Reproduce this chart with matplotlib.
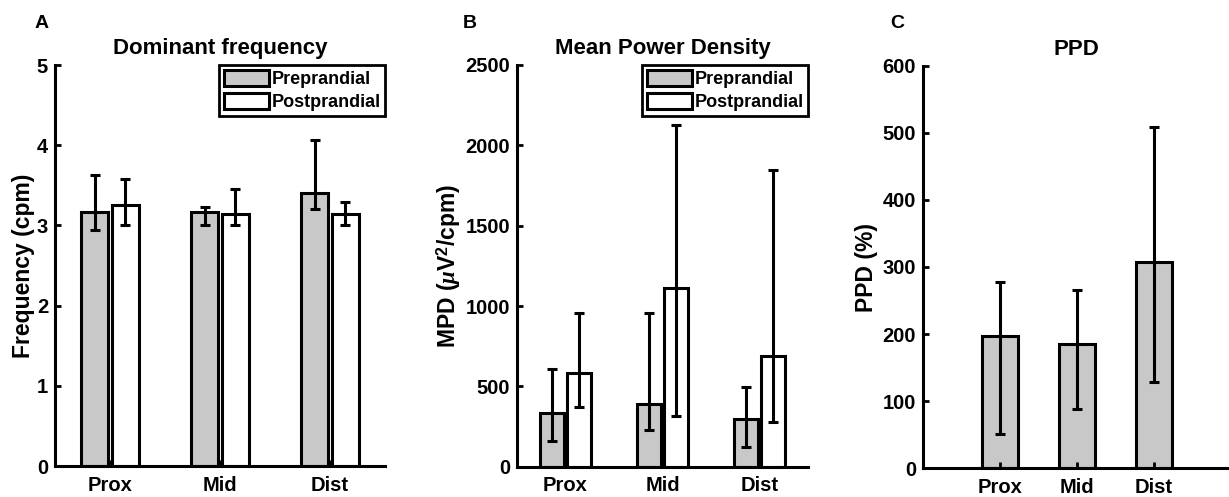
import matplotlib
matplotlib.use("Agg")
import matplotlib.pyplot as plt
import numpy as np

plt.rcParams['font.family'] = ['Liberation Sans', 'DejaVu Sans']
plt.rcParams['font.weight'] = 'bold'
plt.rcParams['mathtext.fontset'] = 'custom'
plt.rcParams['mathtext.rm'] = 'Liberation Sans:bold'
plt.rcParams['mathtext.it'] = 'Liberation Serif:italic'
plt.rcParams['mathtext.bf'] = 'Liberation Sans:bold'

categories = ['Prox', 'Mid', 'Dist']
series = ['Preprandial', 'Postprandial']

# Panel A: dominant frequency (cpm)
df_pre = [3.17, 3.17, 3.41]
df_pre_lo = [2.94, 3.00, 3.20]
df_pre_hi = [3.63, 3.23, 4.07]
df_post = [3.25, 3.14, 3.14]
df_post_lo = [3.00, 3.00, 3.00]
df_post_hi = [3.58, 3.46, 3.29]

# Panel B: mean power density
mpd_pre = [332, 388, 297]
mpd_pre_lo = [160, 228, 125]
mpd_pre_hi = [608, 955, 494]
mpd_post = [585, 1111, 689]
mpd_post_lo = [370, 316, 280]
mpd_post_hi = [959, 2127, 1847]

# Panel C: PPD (%)
ppd = [197, 185, 308]
ppd_lo = [51, 88, 129]
ppd_hi = [278, 265, 508]

GRAY = '#c8c8c8'
LW = 2.2

fig = plt.figure(figsize=(12.29, 4.97), dpi=100)
W, H = 1229, 497

def make_ax(l, r, b, t):
    return fig.add_axes([l / W, (H - b) / H, (r - l) / W, (b - t) / H])

def style(ax):
    for s in ['top', 'right']:
        ax.spines[s].set_visible(False)
    for s in ['left', 'bottom']:
        ax.spines[s].set_linewidth(LW)
    ax.tick_params(direction='in', length=4, width=2, labelsize=14.5)
    ax.tick_params(axis='x', pad=7)
    ax.tick_params(axis='y', pad=5)
    for lab in ax.get_xticklabels() + ax.get_yticklabels():
        lab.set_fontweight('bold')

def err(ax, x, v, lo, hi):
    v = np.array(v); lo = np.array(lo); hi = np.array(hi)
    ax.errorbar(x, v, yerr=[v - lo, hi - v], fmt='none', ecolor='black',
                elinewidth=LW, capsize=3.6, capthick=LW, zorder=5)

x = np.arange(1, len(categories) + 1)
off = 0.14
bw = 0.25

# ---- Panel A ----
axA = make_ax(55, 385, 466, 65)
axA.bar(x - off, df_pre, bw, color=GRAY, edgecolor='black', linewidth=LW, label=series[0])
axA.bar(x + off, df_post, bw, color='white', edgecolor='black', linewidth=LW, label=series[1])
err(axA, x - off, df_pre, df_pre_lo, df_pre_hi)
err(axA, x + off, df_post, df_post_lo, df_post_hi)
axA.set_xlim(0.5, 3.5)
axA.set_ylim(0, 5)
axA.set_yticks([0, 1, 2, 3, 4, 5])
axA.set_xticks(x)
axA.set_xticklabels(categories)
axA.set_ylabel('Frequency (cpm)', fontsize=16.5, fontweight='bold', labelpad=1)
axA.set_title('Dominant frequency', fontsize=16, fontweight='bold', pad=8)
style(axA)

# ---- Panel B ----
axB = make_ax(517, 808, 466.7, 65)
axB.bar(x - off, mpd_pre, bw, color=GRAY, edgecolor='black', linewidth=LW, label=series[0])
axB.bar(x + off, mpd_post, bw, color='white', edgecolor='black', linewidth=LW, label=series[1])
err(axB, x - off, mpd_pre, mpd_pre_lo, mpd_pre_hi)
err(axB, x + off, mpd_post, mpd_post_lo, mpd_post_hi)
axB.set_xlim(0.5, 3.5)
axB.set_ylim(0, 2500)
axB.set_yticks([0, 500, 1000, 1500, 2000, 2500])
axB.set_xticks(x)
axB.set_xticklabels(categories)
axB.set_ylabel(r'MPD ($\mu$V$^{2}$/cpm)', fontsize=16.5, fontweight='bold', labelpad=2)
axB.set_title('Mean Power Density', fontsize=16, fontweight='bold', pad=8)
style(axB)

# ---- Panel C ----
axC = make_ax(923, 1230.5, 468.3, 65.7)
axC.bar(x, ppd, 0.47, color=GRAY, edgecolor='black', linewidth=LW)
err(axC, x, ppd, ppd_lo, ppd_hi)
axC.set_xlim(0, 4)
axC.set_ylim(0, 600)
axC.set_yticks([0, 100, 200, 300, 400, 500, 600])
axC.set_xticks(x)
axC.set_xticklabels(categories)
axC.set_ylabel('PPD (%)', fontsize=16.5, fontweight='bold', labelpad=3)
axC.set_title('PPD', fontsize=16, fontweight='bold', pad=8)
style(axC)

for ax in (axA, axB):
    leg = ax.legend(loc='upper right', bbox_to_anchor=(1.0, 1.0), borderaxespad=0,
                    handlelength=2.5, handleheight=1.05,
                    handletextpad=0.15, labelspacing=0.25, borderpad=0.25,
                    fancybox=False, framealpha=1, edgecolor='black',
                    prop={'weight': 'bold', 'size': 13})
    leg.get_frame().set_linewidth(2)
    for p in leg.get_patches():
        p.set_linewidth(LW)

fig.text(42 / W, 1 - 23 / H, 'A', fontsize=14, fontweight='bold', ha='center', va='center')
fig.text(470 / W, 1 - 23 / H, 'B', fontsize=14, fontweight='bold', ha='center', va='center')
fig.text(897 / W, 1 - 23 / H, 'C', fontsize=14, fontweight='bold', ha='center', va='center')

fig.savefig('out.png', dpi=100)
